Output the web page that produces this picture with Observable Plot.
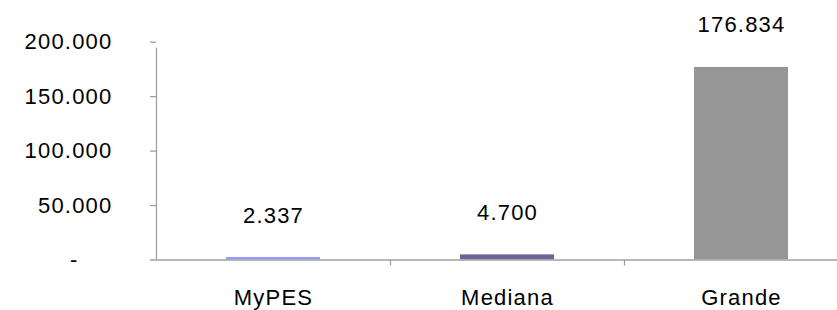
<!DOCTYPE html>
<html>
<head>
<meta charset="utf-8">
<script src="https://cdn.jsdelivr.net/npm/d3@7"></script>
<script src="https://cdn.jsdelivr.net/npm/@observablehq/plot@0.6"></script>
<style>
  html, body { margin: 0; padding: 0; background: #fff; }
  #chart svg { display: block; overflow: visible; }
</style>
</head>
<body>
<div id="chart"></div>
<script>
const categories = ["MyPES", "Mediana", "Grande"];
const values = [2337, 4700, 176834];
const colors = ["#9999FF", "#666699", "#969696"];
const yTicks = [50000, 100000, 150000, 200000];

const data = categories.map((c, i) => ({category: c, value: values[i], color: colors[i]}));

const loc = d3.formatLocale({decimal: ",", thousands: ".", grouping: [3], currency: ["", ""]});
const fmt = loc.format(",");

const width = 837, height = 310;
const marginLeft = 156, marginRight = -21, marginTop = 41.7, marginBottom = 50.5;
const step = (width - marginLeft - marginRight) / categories.length;
const axisColor = "#a0a0a0";

const chart = Plot.plot({
  width, height, marginLeft, marginRight, marginTop, marginBottom,
  style: {fontFamily: "'Liberation Sans', Arial, sans-serif", fontSize: "22px", color: "#000", letterSpacing: "1.2px"},
  x: {domain: categories, paddingInner: 0.6, paddingOuter: 0.3, label: null},
  y: {domain: [0, 200000], label: null},
  marks: [
    Plot.barY(data, {x: "category", y: "value", fill: "color"}),
    Plot.ruleY([0], {stroke: axisColor, strokeWidth: 1.3, insetLeft: -6}),
    Plot.ruleX(categories, {x: d => d, y1: 0, y2: 200000, dx: -step / 2, stroke: axisColor, strokeWidth: 1.3, insetBottom: -6, filter: (d, i) => i === 0}),
    Plot.ruleX(categories.slice(1), {x: d => d, y1: 0, y2: 0, dx: -step / 2, stroke: axisColor, strokeWidth: 1.3, insetBottom: -6}),
    Plot.axisY(yTicks, {tickSize: 6, tickPadding: 38, stroke: axisColor, strokeWidth: 1.3, tickFormat: fmt, fill: "#000"}),
    Plot.axisY([0], {tickSize: 0, tickPadding: 78, tickFormat: () => "-", fill: "#000"}),
    Plot.axisX({tickSize: 0, tickPadding: 29, fill: "#000"}),
    Plot.text(data, {x: "category", y: "value", text: d => fmt(d.value), dy: -42, lineAnchor: "middle", fill: "#000"})
  ]
});
document.getElementById("chart").appendChild(chart);
</script>
</body>
</html>
